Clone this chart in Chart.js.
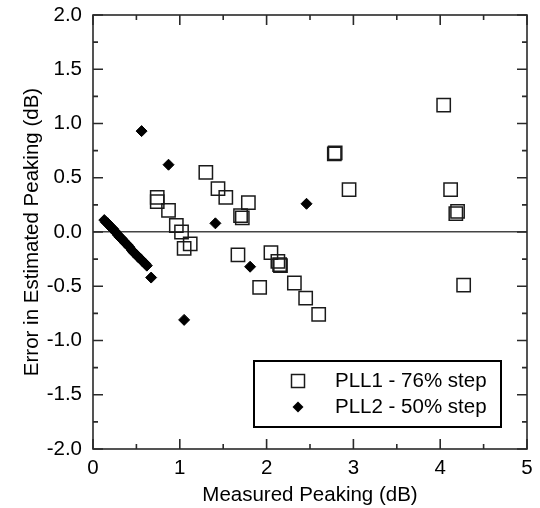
<!DOCTYPE html>
<html>
<head>
<meta charset="utf-8">
<script src="https://cdn.jsdelivr.net/npm/chart.js@4/dist/chart.umd.min.js"></script>
<style>
  html, body { margin: 0; padding: 0; background: #fff; }
</style>
</head>
<body>
<canvas id="chart" width="540" height="508"></canvas>
<script>
// PLL1 - 76% step (open squares)
const pll1X = [0.74, 0.74, 0.87, 0.96, 1.02, 1.05, 1.12, 1.30, 1.44, 1.53, 1.79, 1.70, 1.72, 1.67, 1.92,
               2.05, 2.13, 2.15, 2.16, 2.32, 2.45, 2.60, 2.78, 2.79, 2.95, 4.04, 4.12, 4.18, 4.20, 4.27];
const pll1Y = [0.32, 0.28, 0.20, 0.06, 0.00, -0.15, -0.11, 0.55, 0.40, 0.32, 0.27, 0.15, 0.13, -0.21, -0.51,
               -0.19, -0.27, -0.30, -0.31, -0.47, -0.61, -0.76, 0.72, 0.73, 0.39, 1.17, 0.39, 0.17, 0.19, -0.49];

// PLL2 - 50% step (filled diamonds)
const pll2X = [0.13, 0.15, 0.17, 0.19, 0.21, 0.23, 0.25, 0.27, 0.29, 0.31, 0.33, 0.35, 0.37, 0.40, 0.42,
               0.45, 0.47, 0.50, 0.52, 0.55, 0.57, 0.60, 0.62, 0.67, 0.56, 0.87, 1.05, 1.41, 1.81, 2.46];
const pll2Y = [0.11, 0.09, 0.08, 0.06, 0.04, 0.03, 0.01, -0.01, -0.03, -0.05, -0.06, -0.08, -0.10, -0.12, -0.14,
               -0.17, -0.19, -0.21, -0.23, -0.25, -0.27, -0.29, -0.31, -0.42, 0.93, 0.62, -0.81, 0.08, -0.32, 0.26];

const xTicks = [0, 1, 2, 3, 4, 5];
const xMinor = [0.5, 1.5, 2.5, 3.5, 4.5];
const yTicks = [-2.0, -1.5, -1.0, -0.5, 0.0, 0.5, 1.0, 1.5, 2.0];
const yMinor = [-1.75, -1.25, -0.75, -0.25, 0.25, 0.75, 1.25, 1.75];

const FONT = "'Liberation Sans', Arial, sans-serif";
const FSIZE = 20.5;

// frame, inward ticks and the boxed legend
const framePlugin = {
  id: 'frame',
  afterDraw(chart) {
    const { ctx, chartArea: a, scales } = chart;
    ctx.save();
    ctx.strokeStyle = '#2a2a2a';
    ctx.lineWidth = 1.6;
    ctx.strokeRect(a.left, a.top, a.right - a.left, a.bottom - a.top);

    ctx.beginPath();
    const xt = (vals, len) => vals.forEach(v => {
      const px = scales.x.getPixelForValue(v);
      ctx.moveTo(px, a.bottom); ctx.lineTo(px, a.bottom - len);
      ctx.moveTo(px, a.top); ctx.lineTo(px, a.top + len);
    });
    const yt = (vals, len) => vals.forEach(v => {
      const py = scales.y.getPixelForValue(v);
      ctx.moveTo(a.left, py); ctx.lineTo(a.left + len, py);
      ctx.moveTo(a.right, py); ctx.lineTo(a.right - len, py);
    });
    xt(xTicks, 10); xt(xMinor, 5);
    yt(yTicks, 10); yt(yMinor, 5);
    ctx.stroke();

    // legend
    const lx = 254, ly = 361, lw = 247, lh = 66;
    ctx.fillStyle = '#fff';
    ctx.fillRect(lx, ly, lw, lh);
    ctx.strokeStyle = '#000';
    ctx.lineWidth = 2;
    ctx.strokeRect(lx, ly, lw, lh);

    const ds = chart.data.datasets;
    ctx.font = FSIZE + 'px ' + FONT;
    ctx.textBaseline = 'middle';
    ctx.fillStyle = '#000';

    ctx.strokeStyle = '#1a1a1a';
    ctx.lineWidth = 1.5;
    ctx.strokeRect(298 - 6.5, 381 - 6.5, 13, 13);
    ctx.fillText(ds[0].label, 335, 381);

    ctx.beginPath();
    ctx.moveTo(298, 407 - 5.5);
    ctx.lineTo(298 + 5.5, 407);
    ctx.lineTo(298, 407 + 5.5);
    ctx.lineTo(298 - 5.5, 407);
    ctx.closePath();
    ctx.fill();
    ctx.fillText(ds[1].label, 335, 407);
    ctx.restore();
  }
};

new Chart(document.getElementById('chart'), {
  type: 'scatter',
  data: {
    datasets: [{
      label: 'PLL1 - 76% step',
      data: pll1X.map((x, i) => ({ x: x, y: pll1Y[i] })),
      pointStyle: 'rect',
      radius: 9.4,
      borderWidth: 1.5,
      borderColor: '#1a1a1a',
      backgroundColor: 'rgba(0,0,0,0)'
    }, {
      label: 'PLL2 - 50% step',
      data: pll2X.map((x, i) => ({ x: x, y: pll2Y[i] })),
      pointStyle: 'rectRot',
      radius: 5.5,
      borderWidth: 1,
      borderColor: '#000',
      backgroundColor: '#000'
    }]
  },
  options: {
    responsive: false,
    animation: false,
    layout: { padding: { top: 15, right: 13, left: 0, bottom: 0 } },
    plugins: { legend: { display: false }, tooltip: { enabled: false } },
    scales: {
      x: {
        type: 'linear',
        min: 0, max: 5,
        afterBuildTicks: s => { s.ticks = xTicks.map(v => ({ value: v })); },
        afterFit: s => { s.height = 59; s.paddingLeft = 0; s.paddingRight = 0; },
        grid: { display: false, drawTicks: false },
        border: { display: false },
        ticks: { padding: 7, color: '#000', font: { family: FONT, size: FSIZE, lineHeight: 1.2 } },
        title: {
          display: true, text: 'Measured Peaking (dB)', color: '#000',
          padding: { top: 0, bottom: 0 },
          font: { family: FONT, size: FSIZE, lineHeight: 1.2 }
        }
      },
      y: {
        type: 'linear',
        min: -2, max: 2,
        afterBuildTicks: s => { s.ticks = yTicks.map(v => ({ value: v })); },
        afterFit: s => { s.width = 93; s.paddingTop = 0; s.paddingBottom = 0; },
        grid: {
          drawTicks: false,
          lineWidth: 1.5,
          color: c => (c.tick && c.tick.value === 0 ? '#444' : 'rgba(0,0,0,0)')
        },
        border: { display: false },
        ticks: {
          padding: 11, color: '#000',
          font: { family: FONT, size: FSIZE, lineHeight: 1.2 },
          callback: v => v.toFixed(1)
        },
        title: {
          display: true, text: 'Error in Estimated Peaking (dB)', color: '#000',
          padding: { top: 20, bottom: 0 },
          font: { family: FONT, size: FSIZE, lineHeight: 1.2 }
        }
      }
    }
  },
  plugins: [framePlugin]
});
</script>
</body>
</html>
